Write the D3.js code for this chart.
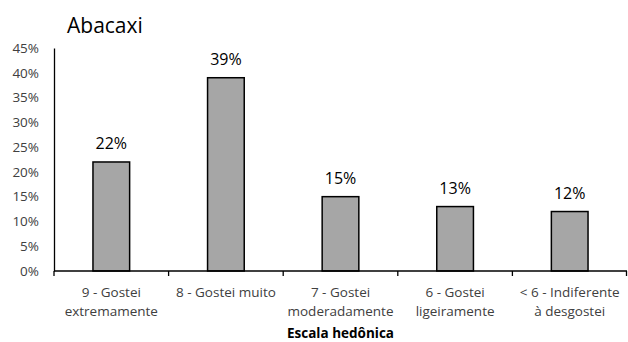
<!DOCTYPE html>
<html>
<head>
<meta charset="utf-8">
<script src="https://cdn.jsdelivr.net/npm/d3@7"></script>
<style>
  html, body { margin: 0; padding: 0; background: #fff; }
  svg { display: block; font-family: "Open Sans", sans-serif; }
</style>
</head>
<body>
<svg id="chart" width="628" height="342"></svg>
<script>
// Hedonic scale results for pineapple (share of responses)
const categories = ["9 - Gostei extremamente", "8 - Gostei muito", "7 - Gostei moderadamente", "6 - Gostei ligeiramente", "< 6 - Indiferente à desgostei"];
const categoryLines = [
  ["9 - Gostei", "extremamente"],
  ["8 - Gostei muito"],
  ["7 - Gostei", "moderadamente"],
  ["6 - Gostei", "ligeiramente"],
  ["< 6 - Indiferente", "à desgostei"]
];
const values = [22, 39, 15, 13, 12];
const yTicks = [0, 5, 10, 15, 20, 25, 30, 35, 40, 45];
const chartTitle = "Abacaxi";
const xAxisTitle = "Escala hedônica";

const svg = d3.select("#chart");
const margin = { left: 54, right: 1, top: 48, bottom: 71 };
const W = 628, H = 342;
const plotW = W - margin.left - margin.right;
const plotH = H - margin.top - margin.bottom;

const x = d3.scaleBand()
  .domain(categories)
  .range([margin.left, margin.left + plotW])
  .paddingInner(0.68)
  .paddingOuter(0.34);

const y = d3.scaleLinear()
  .domain([0, 45])
  .range([margin.top + plotH, margin.top]);

// Y axis: line plus percentage labels, no tick marks
const yAxis = svg.append("g")
  .attr("transform", `translate(${margin.left},0)`)
  .call(d3.axisLeft(y).tickValues(yTicks).tickSize(0).tickPadding(15).tickFormat(d => d + "%"));
yAxis.select(".domain").attr("stroke", "#000").attr("stroke-width", 1.3);
yAxis.selectAll("text")
  .attr("fill", "#404040")
  .style("font-size", "13.5px")
  .style("font-family", "'Open Sans', sans-serif");

// Bars
svg.append("g").selectAll("rect")
  .data(values)
  .join("rect")
  .attr("x", (d, i) => x(categories[i]))
  .attr("y", d => y(d))
  .attr("width", x.bandwidth())
  .attr("height", d => y(0) - y(d))
  .attr("fill", "#a6a6a6")
  .attr("stroke", "#000")
  .attr("stroke-width", 1.5);

// Value labels above bars
svg.append("g").selectAll("text")
  .data(values)
  .join("text")
  .attr("x", (d, i) => x(categories[i]) + x.bandwidth() / 2)
  .attr("y", d => y(d) - 13)
  .attr("text-anchor", "middle")
  .attr("fill", "#000")
  .style("font-size", "16px")
  .text(d => d + "%");

// X axis: baseline with tick marks at category boundaries
const step = x.step();
const x0 = margin.left, yBase = y(0);
const gx = svg.append("g");
gx.append("line")
  .attr("x1", x0).attr("x2", x0 + plotW)
  .attr("y1", yBase).attr("y2", yBase)
  .attr("stroke", "#000").attr("stroke-width", 1.3);
gx.selectAll("line.tick")
  .data(d3.range(categories.length + 1))
  .join("line")
  .attr("class", "tick")
  .attr("x1", i => x0 + i * step - (i === categories.length ? 0.5 : 0))
  .attr("x2", i => x0 + i * step - (i === categories.length ? 0.5 : 0))
  .attr("y1", yBase).attr("y2", yBase + 5)
  .attr("stroke", "#000").attr("stroke-width", 1.3);

// Category labels (wrapped)
const catLabels = gx.selectAll("text.cat")
  .data(categoryLines)
  .join("text")
  .attr("class", "cat")
  .attr("text-anchor", "middle")
  .attr("fill", "#404040")
  .style("font-size", "13.5px");
catLabels.each(function (lines, i) {
  const cx = x(categories[i]) + x.bandwidth() / 2;
  d3.select(this).selectAll("tspan")
    .data(lines)
    .join("tspan")
    .attr("x", cx)
    .attr("y", (l, j) => yBase + 26 + j * 19)
    .text(l => l);
});

// X axis title
svg.append("text")
  .attr("x", margin.left + plotW / 2)
  .attr("y", 338)
  .attr("text-anchor", "middle")
  .attr("fill", "#000")
  .style("font-size", "13.5px")
  .style("font-weight", "bold")
  .text(xAxisTitle);

// Chart title
svg.append("text")
  .attr("x", 67)
  .attr("y", 33)
  .attr("fill", "#000")
  .style("font-size", "21px")
  .text(chartTitle);
</script>
</body>
</html>
